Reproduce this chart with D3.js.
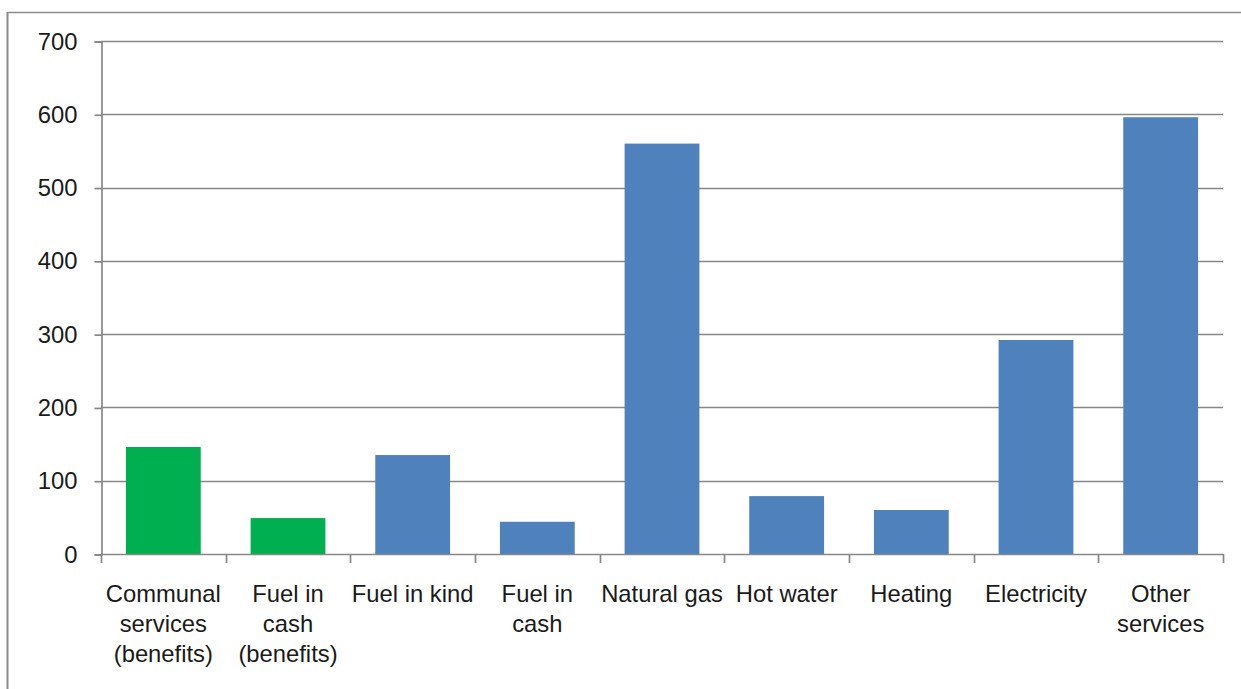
<!DOCTYPE html>
<html>
<head>
<meta charset="utf-8">
<script src="https://cdn.jsdelivr.net/npm/d3@7/dist/d3.min.js"></script>
<style>
  html, body { margin: 0; padding: 0; background: #fff; }
  svg { display: block; }
  text { font-family: "Liberation Sans", Arial, sans-serif; fill: #1a1a1a; }
</style>
</head>
<body>
<svg id="chart" width="1241" height="689"></svg>
<script>
// Category labels (line breaks as drawn under the axis)
const categories = [
  ["Communal", "services", "(benefits)"],
  ["Fuel in", "cash", "(benefits)"],
  ["Fuel in kind"],
  ["Fuel in", "cash"],
  ["Natural gas"],
  ["Hot water"],
  ["Heating"],
  ["Electricity"],
  ["Other", "services"]
];
const values = [146, 49, 135, 44, 560, 79, 60, 292, 596];
const isBenefit = [true, true, false, false, false, false, false, false, false];
const yTicks = [0, 100, 200, 300, 400, 500, 600, 700];

const colors = { benefit: "#00B050", other: "#4F81BD", grid: "#878787", frame: "#8a8a8a" };

const svg = d3.select("#chart");
const W = 1241, H = 689;
const plot = { left: 101, right: 1223, top: 41, bottom: 554 };
const fontSize = 23.8;

// Outer frame (left and top edges)
svg.append("line")
  .attr("x1", 7.5).attr("x2", 7.5).attr("y1", 12).attr("y2", H)
  .attr("stroke", colors.frame).attr("stroke-width", 2);
svg.append("line")
  .attr("x1", 7).attr("x2", W).attr("y1", 12.5).attr("y2", 12.5)
  .attr("stroke", colors.frame).attr("stroke-width", 1.3);

const idx = d3.range(categories.length);
const x = d3.scaleBand().domain(idx).range([plot.left, plot.right]).paddingInner(0.4).paddingOuter(0.2);
const y = d3.scaleLinear().domain([0, 700]).range([plot.bottom, plot.top]);

// Horizontal gridlines
svg.append("g").selectAll("line")
  .data(yTicks.filter(t => t > 0))
  .join("line")
  .attr("x1", plot.left).attr("x2", plot.right)
  .attr("y1", d => Math.round(y(d)) + 0.5).attr("y2", d => Math.round(y(d)) + 0.5)
  .attr("stroke", colors.grid).attr("stroke-width", 1.7);

// Bars
svg.append("g").selectAll("rect")
  .data(idx)
  .join("rect")
  .attr("x", i => x(i))
  .attr("width", x.bandwidth())
  .attr("y", i => y(values[i]))
  .attr("height", i => y(0) - y(values[i]))
  .attr("fill", i => isBenefit[i] ? colors.benefit : colors.other);

// Y axis
const yAxis = d3.axisLeft(y).tickValues(yTicks).tickSize(7).tickPadding(17);
const gy = svg.append("g").attr("transform", `translate(${plot.left + 0.5},0.5)`).call(yAxis);
gy.select(".domain").attr("stroke", colors.grid).attr("stroke-width", 1.7);
gy.selectAll(".tick line").attr("stroke", colors.grid).attr("stroke-width", 1.7);
gy.selectAll(".tick text")
  .attr("font-size", fontSize)
  .attr("font-family", "Liberation Sans, Arial, sans-serif")
  .attr("fill", "#1a1a1a");

// X axis: baseline with boundary ticks between categories
const bounds = d3.range(categories.length + 1).map(k => plot.left + k * x.step());
const gx = svg.append("g");
gx.append("line")
  .attr("x1", plot.left).attr("x2", plot.right)
  .attr("y1", y(0) + 0.5).attr("y2", y(0) + 0.5)
  .attr("stroke", colors.grid).attr("stroke-width", 1.7);
gx.selectAll("line.tk")
  .data(bounds)
  .join("line")
  .attr("class", "tk")
  .attr("x1", d => Math.round(d) + 0.5).attr("x2", d => Math.round(d) + 0.5)
  .attr("y1", y(0)).attr("y2", y(0) + 9)
  .attr("stroke", colors.grid).attr("stroke-width", 1.7);

// Category labels
const lbl = svg.append("g").selectAll("text")
  .data(idx)
  .join("text")
  .attr("text-anchor", "middle")
  .attr("font-size", fontSize)
  .attr("x", i => x(i) + x.bandwidth() / 2)
  .attr("y", 602);
lbl.selectAll("tspan")
  .data(i => categories[i].map(s => ({ s, cx: x(i) + x.bandwidth() / 2 })))
  .join("tspan")
  .attr("x", d => d.cx)
  .attr("dy", (d, j) => j === 0 ? 0 : 30)
  .text(d => d.s);
</script>
</body>
</html>
